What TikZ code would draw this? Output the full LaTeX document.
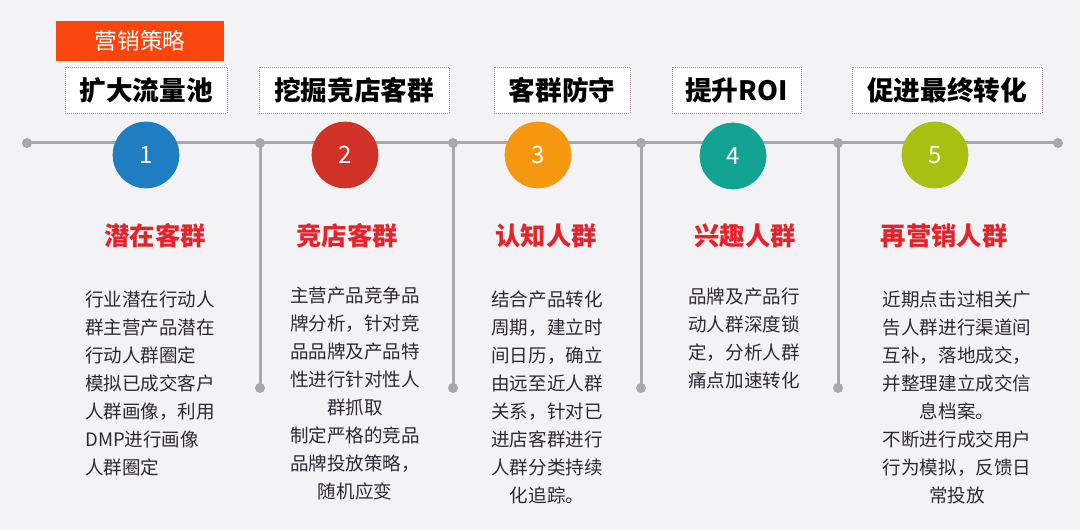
\documentclass[tikz,border=0pt]{standalone}
\usepackage{fontspec}
\setmainfont{Noto Sans CJK SC}
\definecolor{bg}{HTML}{F3F2F5}
\definecolor{linegray}{HTML}{A8A8AA}
\definecolor{boxborder}{HTML}{A89CA4}
\definecolor{tagorange}{HTML}{F9460E}
\definecolor{headred}{HTML}{E3242B}
\definecolor{bodytext}{HTML}{2E2A32}
\definecolor{cblue}{HTML}{1F7DC1}
\definecolor{cred}{HTML}{D13228}
\definecolor{corange}{HTML}{F5980F}
\definecolor{cteal}{HTML}{12A392}
\definecolor{cgreen}{HTML}{A7C012}
\begin{document}
\begin{tikzpicture}[x=0.75pt,y=-0.75pt,
  dot/.style={circle,fill=linegray,inner sep=0pt,minimum size=7.5pt},
  tline/.style={draw=linegray,line width=2.25pt},
  numc/.style={circle,inner sep=0pt,minimum size=50pt,text=white,font=\fontsize{18}{18}\selectfont},
  hbox/.style={draw=boxborder,densely dotted,line width=0.5pt,fill=white,minimum height=34.5pt,inner sep=0pt,text=black,font=\bfseries\fontsize{20}{20}\selectfont},
  tag/.style={fill=tagorange,minimum width=126pt,minimum height=30pt,inner sep=0pt,text=white,font=\fontsize{17}{17}\selectfont},
  redhead/.style={text=headred,inner sep=0pt,font=\bfseries\fontsize{19}{19}\selectfont},
  body/.style={text=bodytext,inner sep=0pt,font=\fontsize{13.9}{21}\selectfont}
]
\fill[bg] (0,0) rectangle (1080,530);
\useasboundingbox (0,0) rectangle (1080,530);

% timeline dots
\node[dot] (d0) at (27,143) {};
\node[dot] (d1) at (260,143) {};
\node[dot] (d2) at (453,143) {};
\node[dot] (d3) at (641,143) {};
\node[dot] (d4) at (838,143) {};
\node[dot] (d5) at (1058,143) {};
\node[dot] (e1) at (260,388) {};
\node[dot] (e2) at (453,388) {};
\node[dot] (e3) at (641,388) {};
\node[dot] (e4) at (838,388) {};
\draw[tline] (d0.center) -- (d5.center);
\draw[tline] (d1.center) -- (e1.center);
\draw[tline] (d2.center) -- (e2.center);
\draw[tline] (d3.center) -- (e3.center);
\draw[tline] (d4.center) -- (e4.center);

% numbered circles
\node[numc,fill=cblue] (n1) at (146,155) {1};
\node[numc,fill=cred] (n2) at (345,155) {2};
\node[numc,fill=corange] (n3) at (538,155) {3};
\node[numc,fill=cteal] (n4) at (733,156) {4};
\node[numc,fill=cgreen] (n5) at (935,155) {5};

% top tag and header boxes
\node[tag] (tag) at (140,41) {营销策略};
\node[hbox,minimum width=121.5pt] (h1) at (146,90) {扩大流量池};
\node[hbox,minimum width=142.5pt] (h2) at (354,90) {挖掘竞店客群};
\node[hbox,minimum width=102pt] (h3) at (562,90) {客群防守};
\node[hbox,minimum width=96.75pt] (h4) at (736.5,90) {提升ROI};
\node[hbox,minimum width=142.5pt] (h5) at (947,90) {促进最终转化};

% red headings
\node[redhead] (r1) at (155,236) {潜在客群};
\node[redhead] (r2) at (347,236) {竞店客群};
\node[redhead] (r3) at (546,236) {认知人群};
\node[redhead] (r4) at (745,236) {兴趣人群};
\node[redhead] (r5) at (944,236) {再营销人群};

% body texts
\node[body,align=left,anchor=west] (b1) at (85,383) {行业潜在行动人\\群主营产品潜在\\行动人群圈定\\模拟已成交客户\\人群画像，利用\\DMP进行画像\\人群圈定};
\node[body,align=center] (b2) at (355,393) {主营产品竞争品\\牌分析，针对竞\\品品牌及产品特\\性进行针对性人\\群抓取\\制定严格的竞品\\品牌投放策略，\\随机应变};
\node[body,align=center] (b3) at (547,397) {结合产品转化\\周期，建立时\\间日历，确立\\由远至近人群\\关系，针对已\\进店客群进行\\人群分类持续\\化追踪。};
\node[body,align=center] (b4) at (744,338) {品牌及产品行\\动人群深度锁\\定，分析人群\\痛点加速转化};
\node[body,align=center] (b5) at (957,397) {近期点击过相关广\\告人群进行渠道间\\互补，落地成交，\\并整理建立成交信\\息档案。\\不断进行成交用户\\行为模拟，反馈日\\常投放};
\end{tikzpicture}
\end{document}
